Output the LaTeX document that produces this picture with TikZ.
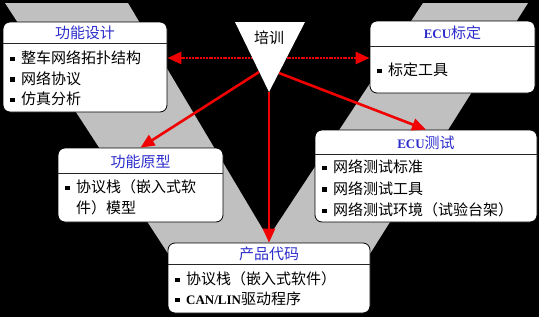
\documentclass[tikz,border=0pt]{standalone}
\usepackage{fontspec}
\setmainfont{Noto Sans CJK SC}
\newfontfamily\lat{Liberation Serif}
\usetikzlibrary{arrows.meta}
\definecolor{vgray}{RGB}{192,192,192}
\definecolor{hblue}{RGB}{45,45,205}
\definecolor{ared}{RGB}{240,0,0}
\newcommand\blt{\rule[2.5pt]{4.5pt}{4.5pt}\hspace{6.5pt}}
\newcommand\lt[1]{{\lat\bfseries\fontsize{13}{15}\selectfont #1}}
\begin{document}
\begin{tikzpicture}[x=1pt,y=-1pt,
  boxstyle/.style={draw=black, line width=0.8pt, fill=white, rounded corners=7pt, inner sep=0pt},
  sepline/.style={draw=black!85, line width=1pt},
  hdtext/.style={anchor=base, font=\fontsize{15}{18}\selectfont, text=hblue, inner sep=0pt},
  itemtext/.style={anchor=base west, font=\fontsize{15}{18}\selectfont, text=black, inner sep=0pt},
  arr/.style={draw=ared, line width=2.6pt, -{Triangle[length=14pt,width=12pt]}},
  dotarr/.style={arr, dash pattern=on 2pt off 0.8pt},
]
\useasboundingbox (0,0) rectangle (539,317);
\fill[black] (0,0) rectangle (539,317);
% V band
\fill[vgray] (5,3) -- (128,3) -- (268,238) -- (423,3) -- (528,3) -- (344,295) -- (195,295) -- cycle;

% box 1: 功能设计
\node[boxstyle, minimum width=164pt, minimum height=90pt] (b1) at (85,67) {};
\draw[sepline] ([yshift=-22pt]b1.north west) -- ([yshift=-22pt]b1.north east);
\node[hdtext] (h1) at (85,38.5) {功能设计};
\node[itemtext] (b1a) at (10,63.5) {\blt 整车网络拓扑结构};
\node[itemtext] (b1b) at (10,84) {\blt 网络协议};
\node[itemtext] (b1c) at (10,104.5) {\blt 仿真分析};

% box 2: ECU标定
\node[boxstyle, minimum width=165pt, minimum height=72pt] (b2) at (452.5,57) {};
\draw[sepline] ([yshift=-26pt]b2.north west) -- ([yshift=-26pt]b2.north east);
\node[hdtext] (h2) at (452.5,38) {\lt{ECU}标定};
\node[itemtext] (b2a) at (377,75.5) {\blt 标定工具};

% box 3: ECU测试
\node[boxstyle, minimum width=222pt, minimum height=92pt] (b3) at (426,176) {};
\draw[sepline] ([yshift=-25pt]b3.north west) -- ([yshift=-25pt]b3.north east);
\node[hdtext] (h3) at (426,148.5) {\lt{ECU}测试};
\node[itemtext] (b3a) at (322,172.5) {\blt 网络测试标准};
\node[itemtext] (b3b) at (322,194) {\blt 网络测试工具};
\node[itemtext] (b3c) at (322,215.5) {\blt 网络测试环境（试验台架）};

% box 4: 功能原型
\node[boxstyle, minimum width=165pt, minimum height=74pt] (b4) at (140.5,185) {};
\draw[sepline] ([yshift=-26pt]b4.north west) -- ([yshift=-26pt]b4.north east);
\node[hdtext] (h4) at (140.5,167.5) {功能原型};
\node[itemtext] (b4a) at (65,192.5) {\blt 协议栈（嵌入式软};
\node[itemtext] (b4b) at (76,213.5) {件）模型};

% box 5: 产品代码
\node[boxstyle, minimum width=202pt, minimum height=70pt] (b5) at (269,278) {};
\draw[sepline] ([yshift=-22pt]b5.north west) -- ([yshift=-22pt]b5.north east);
\node[hdtext] (h5) at (269,259) {产品代码};
\node[itemtext] (b5a) at (175,284.5) {\blt 协议栈（嵌入式软件）};
\node[itemtext] (b5b) at (175,304.5) {\blt \lt{CAN/LIN}驱动程序};

% triangle coordinates
\coordinate (tA) at (235,22);
\coordinate (tB) at (305,22);
\coordinate (apex) at (269,92);
\coordinate (tl) at (252.5,58);
\coordinate (tr) at (286.5,58);
\coordinate (tdl) at (259,72);
\coordinate (tdr) at (279,73);

% arrows
\draw[dotarr] (tl) -- (b1.east |- tl);
\draw[dotarr] (tr) -- (b2.west |- tr);
\draw[arr] (tdl) -- (b4.north);
\draw[arr] (tdr) -- (b3.north);
\draw[arr] (apex) -- (b5.north);

% triangle
\fill[white] (tA) -- (tB) -- (apex) -- cycle;
\node[itemtext, anchor=base] (tt) at (269,43.5) {培训};
\end{tikzpicture}
\end{document}
